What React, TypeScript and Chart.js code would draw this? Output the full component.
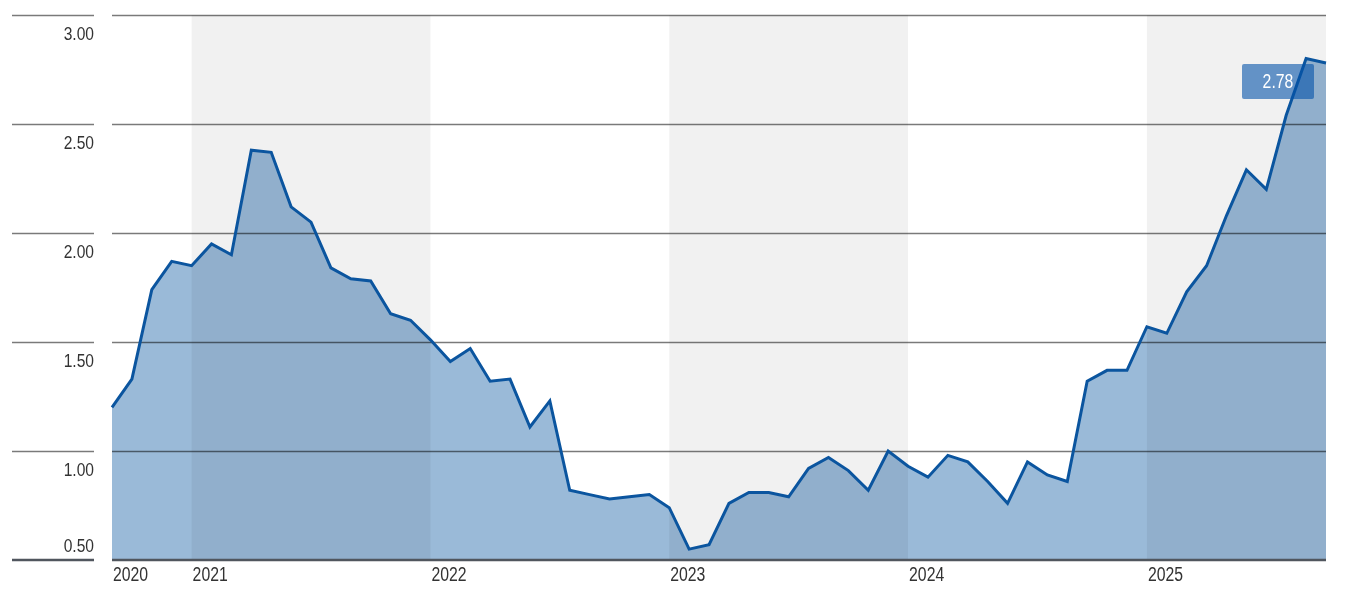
import React, { useEffect, useRef } from "react";
import { Chart, registerables } from "chart.js";

Chart.register(...registerables);

const months: string[] = [
  "2020-09", "2020-10", "2020-11", "2020-12",
  "2021-01", "2021-02", "2021-03", "2021-04", "2021-05", "2021-06", "2021-07", "2021-08", "2021-09", "2021-10", "2021-11", "2021-12",
  "2022-01", "2022-02", "2022-03", "2022-04", "2022-05", "2022-06", "2022-07", "2022-08", "2022-09", "2022-10", "2022-11", "2022-12",
  "2023-01", "2023-02", "2023-03", "2023-04", "2023-05", "2023-06", "2023-07", "2023-08", "2023-09", "2023-10", "2023-11", "2023-12",
  "2024-01", "2024-02", "2024-03", "2024-04", "2024-05", "2024-06", "2024-07", "2024-08", "2024-09", "2024-10", "2024-11", "2024-12",
  "2025-01", "2025-02", "2025-03", "2025-04", "2025-05", "2025-06", "2025-07", "2025-08", "2025-09", "2025-10",
];

const values: number[] = [
  1.20, 1.33, 1.74, 1.87,
  1.85, 1.95, 1.90, 2.38, 2.37, 2.12, 2.05, 1.84, 1.79, 1.78, 1.63, 1.60,
  1.51, 1.41, 1.47, 1.32, 1.33, 1.11, 1.23, 0.82, 0.80, 0.78, 0.79, 0.80,
  0.74, 0.55, 0.57, 0.76, 0.81, 0.81, 0.79, 0.92, 0.97, 0.91, 0.82, 1.00,
  0.93, 0.88, 0.98, 0.95, 0.86, 0.76, 0.95, 0.89, 0.86, 1.32, 1.37, 1.37,
  1.57, 1.54, 1.73, 1.85, 2.08, 2.29, 2.20, 2.54, 2.80, 2.78,
];

const yTicks: number[] = [0.5, 1.0, 1.5, 2.0, 2.5, 3.0];
const yearLabels: string[] = ["2020", "2021", "2022", "2023", "2024", "2025"];
const yearStartIndex: number[] = [0, 4, 16, 28, 40, 52];
const shadedYears: string[] = ["2021", "2023", "2025"];
const lastValueLabel = "2.78";

const FONT = '"Liberation Sans", Arial, sans-serif';

// draw text horizontally condensed (to mimic a condensed typeface)
function condensedText(ctx: CanvasRenderingContext2D, text: string, x: number, y: number, align: "left" | "right" | "center", squeeze: number) {
  const w = ctx.measureText(text).width * squeeze;
  let left = x;
  if (align === "right") left = x - w;
  else if (align === "center") left = x - w / 2;
  ctx.save();
  ctx.translate(left, y);
  ctx.scale(squeeze, 1);
  ctx.textAlign = "left";
  ctx.fillText(text, 0, 0);
  ctx.restore();
}

const decorPlugin = {
  id: "decor",
  afterDatasetDraw(chart: any, args: any) {
    if (args.index !== 0) return;
    const { ctx, chartArea, scales } = chart;
    const xs = scales.x;
    const ys = scales.y;
    ctx.save();
    // shaded year bands (translucent overlay)
    ctx.fillStyle = "rgba(0,0,0,0.055)";
    yearLabels.forEach((yr, k) => {
      if (!shadedYears.includes(yr)) return;
      const x0 = xs.getPixelForValue(yearStartIndex[k]);
      const endIdx = k + 1 < yearStartIndex.length ? yearStartIndex[k + 1] : months.length - 1;
      const x1 = xs.getPixelForValue(endIdx);
      ctx.fillRect(x0, chartArea.top, x1 - x0, chartArea.bottom - chartArea.top);
    });
    // grid lines
    ctx.strokeStyle = "rgba(0,0,0,0.52)";
    ctx.lineWidth = 1.5;
    yTicks.forEach((v) => {
      if (v === yTicks[0]) return;
      const y = Math.round(ys.getPixelForValue(v)) + 0.5;
      ctx.beginPath();
      ctx.moveTo(12, y);
      ctx.lineTo(94, y);
      ctx.moveTo(chartArea.left, y);
      ctx.lineTo(chartArea.right, y);
      ctx.stroke();
    });
    ctx.restore();
  },
  afterDatasetsDraw(chart: any) {
    const { ctx, chartArea, scales } = chart;
    const xs = scales.x;
    const ys = scales.y;
    ctx.save();
    // baseline
    const yb = ys.getPixelForValue(yTicks[0]);
    ctx.strokeStyle = "#50565e";
    ctx.lineWidth = 2.5;
    ctx.beginPath();
    ctx.moveTo(12, yb);
    ctx.lineTo(94, yb);
    ctx.moveTo(chartArea.left, yb);
    ctx.lineTo(chartArea.right, yb);
    ctx.stroke();

    // y labels
    ctx.fillStyle = "#333333";
    ctx.font = `19px ${FONT}`;
    ctx.textBaseline = "alphabetic";
    yTicks.forEach((v, i) => {
      const y = ys.getPixelForValue(v);
      const ty = i === 0 ? y - 8 : y + 25;
      condensedText(ctx, v.toFixed(2), 94, ty, "right", 0.82);
    });

    // x labels
    ctx.font = `20px ${FONT}`;
    yearLabels.forEach((yr, k) => {
      const x = xs.getPixelForValue(yearStartIndex[k]);
      condensedText(ctx, yr, x + 1, chartArea.bottom + 21, "left", 0.79);
    });

    // last value box
    const li = values.length - 1;
    const px = xs.getPixelForValue(li);
    const py = ys.getPixelForValue(values[li]);
    const bx = px - 84;
    const by = py + 1;
    const bw = 72;
    const bh = 35;
    ctx.fillStyle = "rgba(3, 81, 168, 0.6)";
    ctx.beginPath();
    if ((ctx as any).roundRect) (ctx as any).roundRect(bx, by, bw, bh, 2);
    else ctx.rect(bx, by, bw, bh);
    ctx.fill();
    ctx.fillStyle = "#ffffff";
    ctx.font = `20px ${FONT}`;
    ctx.textBaseline = "middle";
    condensedText(ctx, lastValueLabel, bx + bw / 2, by + bh / 2 + 1, "center", 0.79);
    ctx.restore();
  },
};

export default function App() {
  const canvasRef = useRef<HTMLCanvasElement | null>(null);

  useEffect(() => {
    document.body.style.margin = "0";
    const canvas = canvasRef.current;
    if (!canvas) return;
    const chart = new Chart(canvas, {
      type: "line",
      data: {
        labels: months,
        datasets: [
          {
            data: values,
            borderWidth: 0,
            borderColor: "rgba(0,0,0,0)",
            backgroundColor: "rgb(154, 186, 216)",
            fill: "start",
            pointRadius: 0,
            tension: 0,
            order: 2,
          },
          {
            data: values,
            borderColor: "#0b559f",
            borderWidth: 3,
            fill: false,
            pointRadius: 0,
            tension: 0,
            order: 1,
          },
        ],
      },
      options: {
        animation: false,
        responsive: false,
        maintainAspectRatio: false,
        layout: { padding: { left: 112, right: 20, top: 15, bottom: 39 } },
        plugins: {
          legend: { display: false },
          tooltip: { enabled: false },
        },
        scales: {
          x: { type: "category", display: false, offset: false },
          y: { type: "linear", display: false, min: 0.5, max: 3.0 },
        },
      },
      plugins: [decorPlugin],
    });
    return () => chart.destroy();
  }, []);

  return (
    <div style={{ position: "fixed", left: 0, top: 0, width: 1346, height: 599, background: "#ffffff" }}>
      <canvas ref={canvasRef} width={1346} height={599} style={{ width: 1346, height: 599 }} />
    </div>
  );
}
